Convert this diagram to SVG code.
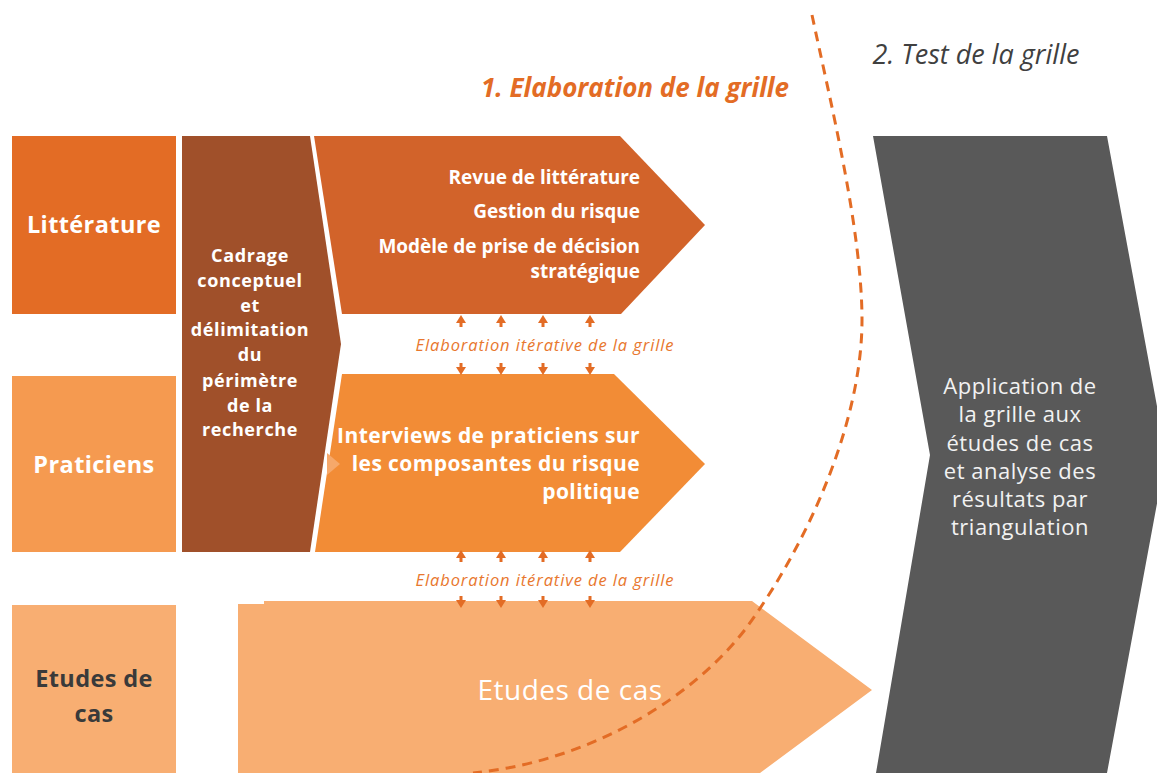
<svg xmlns="http://www.w3.org/2000/svg" width="1157" height="773" viewBox="0 0 1157 773">
<style>
text{font-family:"Open Sans","Noto Sans","Liberation Sans",sans-serif}
.w{fill:#fff;font-weight:bold}
.lbl{font-size:23.5px;text-anchor:middle;letter-spacing:0.4px}
.br{font-size:18px;text-anchor:middle;letter-spacing:0.6px}
.tr{font-size:19px;text-anchor:end}
.mr{font-size:21px;text-anchor:end;letter-spacing:0.4px}
.it{fill:#E8772E;font-style:italic;font-size:16.5px;text-anchor:middle;letter-spacing:0.9px}
.gt{fill:#f2f2f2;font-size:22px;text-anchor:middle;letter-spacing:0.5px}
.arr{fill:#E36C25}
</style>
<rect width="1157" height="773" fill="#fff"/>

<g id="phase-test">
<polygon points="873,136 1107,136 1166,455 1107,773 876,773 930,455" fill="#595959"/>
<text class="gt" x="1020" y="394">Application de</text>
<text class="gt" x="1020" y="422">la grille aux</text>
<text class="gt" x="1020" y="451">études de cas</text>
<text class="gt" x="1020" y="479">et analyse des</text>
<text class="gt" x="1020" y="507">résultats par</text>
<text class="gt" x="1020" y="535">triangulation</text>
</g>

<g id="litterature">
<rect x="12" y="136" width="164" height="178" fill="#E36C25"/>
<text class="w lbl" x="94" y="233">Littérature</text>
</g>
<g id="praticiens">
<rect x="12" y="376" width="164" height="176" fill="#F59A50"/>
<text class="w lbl" x="94" y="473">Praticiens</text>
</g>
<g id="etudes">
<rect x="12" y="605" width="164" height="168" fill="#F8AE72"/>
<text class="lbl" x="94" y="687" fill="#3a3a3a" font-weight="bold">Etudes de</text>
<text class="lbl" x="94" y="722" fill="#3a3a3a" font-weight="bold">cas</text>
</g>

<g id="cadrage">
<polygon points="182,136 310,136 341,344 310,552 182,552" fill="#A0502A"/>
<text class="w br" x="250" y="262">Cadrage</text>
<text class="w br" x="250" y="287">conceptuel</text>
<text class="w br" x="250" y="312">et</text>
<text class="w br" x="250" y="336">délimitation</text>
<text class="w br" x="250" y="361">du</text>
<text class="w br" x="250" y="387">périmètre</text>
<text class="w br" x="250" y="412">de la</text>
<text class="w br" x="250" y="436">recherche</text>
</g>

<g id="revue">
<polygon points="314,136 620,136 705,225 621,314 342,314" fill="#D2632A"/>
<text class="w tr" x="640" y="184">Revue de littérature</text>
<text class="w tr" x="640" y="218">Gestion du risque</text>
<text class="w tr" x="640" y="253">Modèle de prise de décision</text>
<text class="w tr" x="640" y="278">stratégique</text>
</g>

<g id="interviews">
<polygon points="342,374 614,374 705,464 620,552 315,552" fill="#F28C36"/>
<polygon points="327,453 340,464 327,475" fill="#F6A86A"/>
<text class="w mr" x="640" y="443">Interviews de praticiens sur</text>
<text class="w mr" x="640" y="471">les composantes du risque</text>
<text class="w mr" x="640" y="499">politique</text>
</g>

<g id="etudes-cas">
<polygon points="238,604 264,604 264,601 752,601 872,690 760,773 238,773" fill="#F8AE72"/>
<text x="570" y="700" fill="#fff" font-size="28" letter-spacing="0.5" text-anchor="middle">Etudes de cas</text>
</g>

<g id="connectors">
<g id="arrows-1" class="arr">
<path d="M461,315 l-5,8 h3.5 v4 h3 v-4 h3.5z M501,315 l-5,8 h3.5 v4 h3 v-4 h3.5z M543,315 l-5,8 h3.5 v4 h3 v-4 h3.5z M590,315 l-5,8 h3.5 v4 h3 v-4 h3.5z"/>
<path d="M461,375 l-5,-8 h3.5 v-4 h3 v4 h3.5z M501,375 l-5,-8 h3.5 v-4 h3 v4 h3.5z M543,375 l-5,-8 h3.5 v-4 h3 v4 h3.5z M590,375 l-5,-8 h3.5 v-4 h3 v4 h3.5z"/>
</g>
<g id="arrows-2" class="arr">
<path d="M461,550 l-5,8 h3.5 v4 h3 v-4 h3.5z M501,550 l-5,8 h3.5 v4 h3 v-4 h3.5z M543,550 l-5,8 h3.5 v4 h3 v-4 h3.5z M590,550 l-5,8 h3.5 v4 h3 v-4 h3.5z"/>
<path d="M461,608 l-5,-8 h3.5 v-4 h3 v4 h3.5z M501,608 l-5,-8 h3.5 v-4 h3 v4 h3.5z M543,608 l-5,-8 h3.5 v-4 h3 v4 h3.5z M590,608 l-5,-8 h3.5 v-4 h3 v4 h3.5z"/>
</g>
<text class="it" x="545" y="351">Elaboration itérative de la grille</text>
<text class="it" x="545" y="586">Elaboration itérative de la grille</text>
<path id="boundary" d="M812,15 C830,100 862,230 862,320 C862,420 810,540 747,627 C700,690 600,760 473,773" fill="none" stroke="#E36C25" stroke-width="3" stroke-dasharray="10,7"/>
</g>

<g id="titles">
<text x="635" y="97" fill="#E36C25" font-size="26" font-weight="bold" font-style="italic" text-anchor="middle">1. Elaboration de la grille</text>
<text x="976" y="64" fill="#404040" font-size="27" font-style="italic" text-anchor="middle">2. Test de la grille</text>
</g>
</svg>
